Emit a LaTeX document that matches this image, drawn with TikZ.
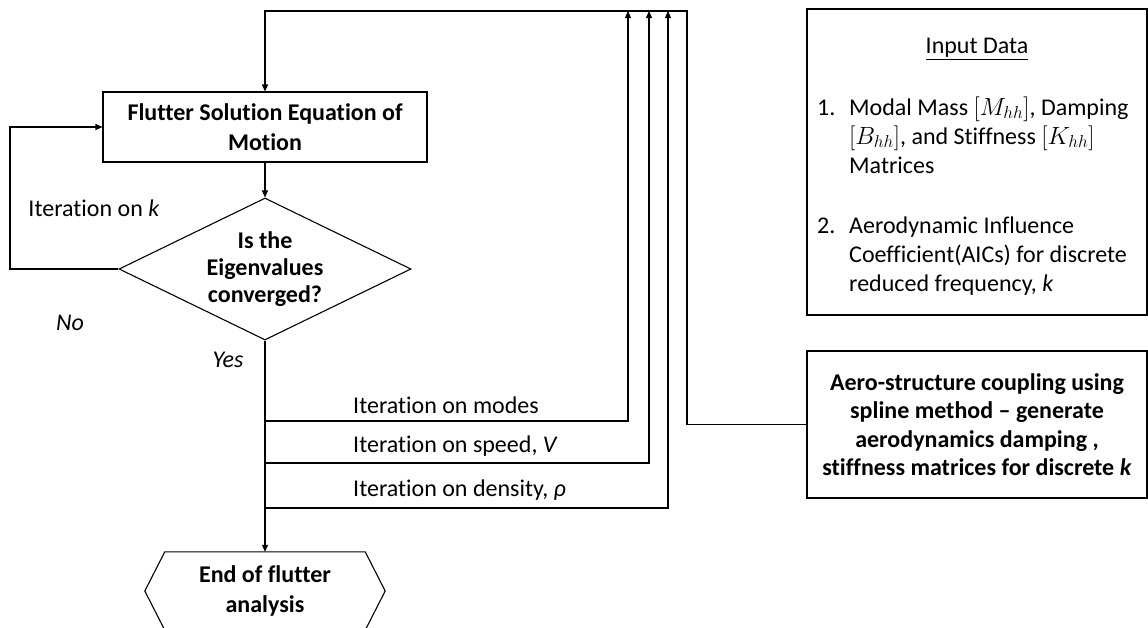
\documentclass[tikz,border=0pt]{standalone}
\usepackage{fontspec}
\setmainfont{Carlito}[Ligatures=NoCommon]
\usetikzlibrary{arrows.meta,shapes.geometric}
\begin{document}
\begin{tikzpicture}[x=1pt,y=-1pt,
  every node/.style={font=\fontsize{24}{29}\selectfont, text=black},
  conn/.style={draw=black, line width=1.1pt},
  arr/.style={conn, -{Triangle[length=7pt,width=6pt]}},
  boxnode/.style={draw=black, line width=1.1pt, inner sep=0pt},
  boldtext/.style={font=\bfseries\fontsize{24}{#1}\selectfont, align=center},
]
\useasboundingbox (0,0) rectangle (1148,627);

% main nodes
\node[boxnode, boldtext=30, minimum width=324pt, minimum height=70pt] (flutter) at (265,127) {Flutter Solution Equation of\\Motion};
\node[diamond, draw=black, line width=1.1pt, minimum width=292pt, minimum height=142pt, inner sep=0pt] (dec) at (265,269) {};
\node[boldtext=27] (dectext) at (265,269) {Is the\\Eigenvalues\\converged?};
\node[boldtext=30, minimum width=240pt, minimum height=78pt, inner sep=0pt] (endn) at (265,591) {End of flutter\\analysis};
\draw[conn] (endn.west) -- ([xshift=20pt]endn.north west) -- ([xshift=-20pt]endn.north east) -- (endn.east) -- ([xshift=-20pt]endn.south east) -- ([xshift=20pt]endn.south west) -- cycle;

% input data box
\node[boxnode, minimum width=340pt, minimum height=306pt] (input) at (977,162) {};
\node (inhead) at (977,49) {\underline{Input Data}};
\node[anchor=base west, inner sep=0pt] (inlist) at (817,115) {\begin{tabular}[t]{@{}p{32pt}@{}l@{}}
1. & Modal Mass $[M_{hh}]$, Damping\\
   & $[B_{hh}]$, and Stiffness $[K_{hh}]$\\
   & Matrices\\[31pt]
2. & Aerodynamic Influence\\
   & Coefficient(AICs) for discrete\\
   & reduced frequency, \textit{k}
\end{tabular}};

% aero-structure box
\node[boxnode, boldtext=28.5, minimum width=340pt, minimum height=147pt] (aero) at (977,424.5) {Aero-structure coupling using\\spline method – generate\\aerodynamics damping ,\\stiffness matrices for discrete \textit{k}};

% coordinates
\coordinate (topR) at (687,11);
\coordinate (b1) at (265,421); \coordinate (t1) at (628,11);
\coordinate (b2) at (265,463); \coordinate (t2) at (649,11);
\coordinate (b3) at (265,508); \coordinate (t3) at (668,11);
\coordinate (lp) at (10,269);

% connectors
\draw[arr] (aero.west) -| (topR) -| (flutter.north);
\draw[arr] (flutter.south) -- (dec.north);
\draw[arr] (dec.west) -- (lp) |- (flutter.west);
\draw[arr] (dec.south) -- (endn.north);
\draw[arr] (b1) -| (t1);
\draw[arr] (b2) -| (t2);
\draw[arr] (b3) -| (t3);

% labels
\node (lk) at (94,208) {Iteration on \textit{k}};
\node (lno) at (70,323) {\textit{No}};
\node (lyes) at (228,360) {\textit{Yes}};
\node[anchor=west, inner sep=0pt] (l1) at (353,405) {Iteration on modes};
\node[anchor=west, inner sep=0pt] (l2) at (353,446) {Iteration on speed, \textit{V}};
\node[anchor=west, inner sep=0pt] (l3) at (353,490) {Iteration on density, \textit{ρ}};
\end{tikzpicture}
\end{document}
